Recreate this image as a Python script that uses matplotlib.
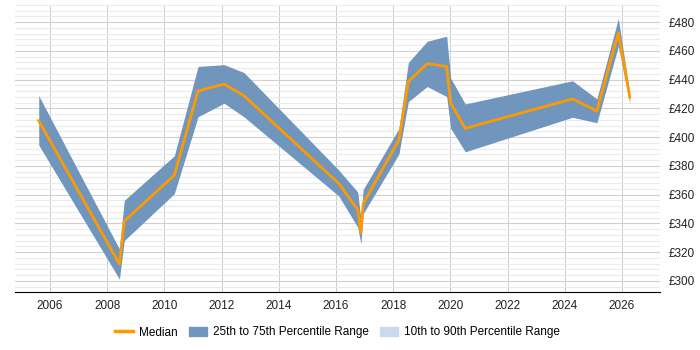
import matplotlib
matplotlib.use('Agg')
import matplotlib.pyplot as plt
from matplotlib.patches import Patch
from matplotlib.lines import Line2D
from matplotlib.ticker import MultipleLocator, FuncFormatter

plt.rcParams['font.family'] = ['Liberation Sans', 'DejaVu Sans']

# data
years = [2005.61, 2008.43, 2008.6, 2010.35, 2011.18, 2012.09, 2012.78, 2016.1,
         2016.76, 2016.87, 2016.95, 2018.2, 2018.53, 2019.19, 2019.87, 2020.01,
         2020.52, 2024.27, 2025.12, 2025.87, 2026.27]
median = [411.5, 311.7, 341.5, 373.5, 432.2, 436.9, 428.9, 367.7,
          349.5, 333.4, 353.7, 398, 438.7, 451.1, 449.2, 423.6,
          406.1, 426.6, 418.2, 472.6, 427.8]
p75 = [428.9, 322.2, 356, 387, 449.2, 450.4, 445, 377,
       361.8, 343, 363.5, 406, 452, 466.7, 470.2, 441,
       423.1, 439.2, 426.6, 482.6, 430.6]
p25 = [394.5, 301.2, 328, 360.7, 414.2, 423.6, 414.2, 359,
       337.3, 325.7, 346.7, 388.2, 424.7, 435.2, 428.2, 406.1,
       389.8, 413.8, 410, 463.2, 423.6]

band_col = '#7096be'
med_col = '#ff9900'
light_col = '#c8daec'

fig = plt.figure(figsize=(7, 3.5), dpi=100)
ax = fig.add_axes([0.021, 0.166, 0.922, 0.82])

ax.fill_between(years, p25, p75, color=band_col, lw=0, zorder=2)
ax.plot(years, median, color=med_col, lw=2, zorder=3)

ax.set_xlim(2004.77, 2027.33)
ax.set_ylim(292.3, 492)
ax.xaxis.set_major_locator(MultipleLocator(2))
ax.yaxis.set_major_locator(MultipleLocator(20))
ax.yaxis.set_minor_locator(MultipleLocator(4))
ax.yaxis.set_major_formatter(FuncFormatter(lambda v, p: '£%d' % v))
ax.yaxis.tick_right()

ax.grid(axis='x', which='major', color='#cccccc', lw=0.7, zorder=0)
ax.grid(axis='y', which='major', color='#d0d0d0', lw=0.8, zorder=0)
ax.grid(axis='y', which='minor', color='#ebebeb', lw=0.8, zorder=0)
ax.set_axisbelow(True)

for s in ['top', 'left', 'right']:
    ax.spines[s].set_visible(False)
ax.spines['bottom'].set_color('black')
ax.tick_params(axis='both', which='both', length=0, labelsize=8.5, colors='#222222')
ax.tick_params(axis='x', pad=6)
ax.tick_params(axis='y', pad=6)

handles = [Line2D([0], [0], color=med_col, lw=2.5),
           Patch(color=band_col),
           Patch(color=light_col)]
labels = ['Median', '25th to 75th Percentile Range', '10th to 90th Percentile Range']
fig.legend(handles, labels, loc='center', bbox_to_anchor=(0.482, 0.05), ncol=3,
           frameon=False, fontsize=8.5, handlelength=1.5, columnspacing=1.0,
           handletextpad=0.5)

fig.savefig('out.png', dpi=100)
